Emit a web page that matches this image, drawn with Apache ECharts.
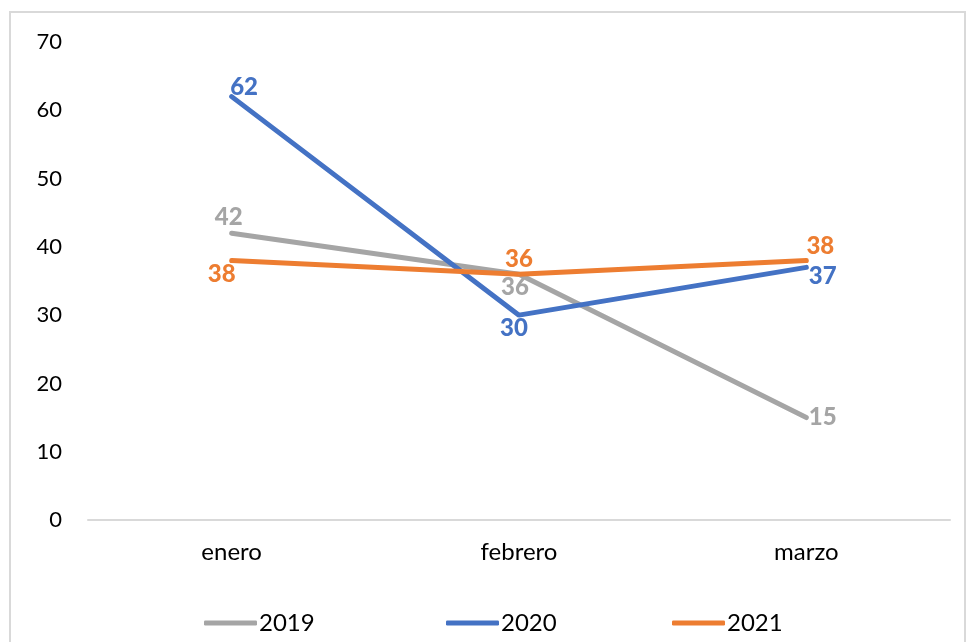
<!DOCTYPE html>
<html>
<head>
<meta charset="utf-8">
<script src="https://cdn.jsdelivr.net/npm/echarts@6/dist/echarts.min.js"></script>
<style>
  html, body { margin: 0; padding: 0; background: #fff; }
  #chart { width: 967px; height: 642px; }
</style>
</head>
<body>
<div id="chart"></div>
<script>
// datos
const months = ["enero", "febrero", "marzo"];
const years = ["2019", "2020", "2021"];
const y2019 = [42, 36, 15];
const y2020 = [62, 30, 37];
const y2021 = [38, 36, 38];

const FONT = "Lato";
const colors = ["#A5A5A5", "#4472C4", "#ED7D31"];

// etiqueta por punto: [posición, offset]
const pos2019 = [["top", [-3, 1]], ["bottom", [-4, -3]], ["right", [-2, 0]]];
const pos2020 = [["right", [-6, -9]], ["bottom", [-5, -3]], ["right", [-2, 9]]];
const pos2021 = [["bottom", [-10, -3]], ["top", [0, 2]], ["top", [14, 2]]];

function makeSeries(name, values, positions, color) {
  return {
    name: name,
    type: "line",
    symbol: "circle",
    symbolSize: 1,
    lineStyle: { width: 5, color: color, cap: "round" },
    itemStyle: { color: color },
    data: values.map(function (v, i) {
      return {
        value: v,
        label: { position: positions[i][0], offset: positions[i][1] }
      };
    }),
    label: {
      show: true,
      color: color,
      fontFamily: FONT,
      fontWeight: 900,
      fontSize: 24,
      distance: 4
    }
  };
}

// una leyenda por serie para colocar cada elemento
const legendLeft = [199, 441, 667];
const legends = years.map(function (y, i) {
  return {
    data: [y],
    left: legendLeft[i],
    bottom: 2,
    icon: "roundRect",
    itemWidth: 53,
    itemHeight: 5,
    textStyle: { fontFamily: FONT, fontSize: 24, color: "#000", padding: [0, 0, 0, -3] }
  };
});

const myChart = echarts.init(document.getElementById("chart"));
const option = {
  animation: false,
  backgroundColor: "#fff",
  graphic: [{
    type: "rect",
    shape: { x: 10, y: 12, width: 955, height: 640 },
    style: { fill: "none", stroke: "#d9d9d9", lineWidth: 2 },
    silent: true
  }],
  grid: { left: 88, right: 17, top: 42, bottom: 122 },
  legend: legends,
  xAxis: {
    type: "category",
    data: months,
    axisLine: { lineStyle: { color: "#d9d9d9", width: 2 } },
    axisTick: { show: false },
    axisLabel: { fontFamily: FONT, fontSize: 24, color: "#000", margin: 20 }
  },
  yAxis: {
    type: "value",
    min: 0,
    max: 70,
    interval: 10,
    axisLine: { show: false },
    axisTick: { show: false },
    splitLine: { show: false },
    axisLabel: { fontFamily: FONT, fontSize: 22, color: "#000", margin: 26 }
  },
  series: [
    makeSeries(years[0], y2019, pos2019, colors[0]),
    makeSeries(years[1], y2020, pos2020, colors[1]),
    makeSeries(years[2], y2021, pos2021, colors[2])
  ]
};
myChart.setOption(option);
window.addEventListener("resize", function () { myChart.resize(); });
</script>
</body>
</html>
